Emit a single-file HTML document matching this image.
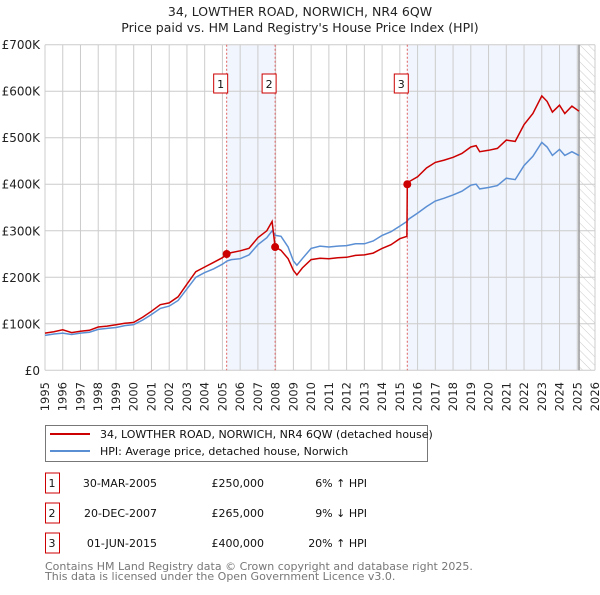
<!DOCTYPE html>
<html><head><meta charset="utf-8"><style>
body{margin:0;background:#fff;font-family:"Liberation Sans","DejaVu Sans",sans-serif;}
svg text{font-family:"DejaVu Sans","Liberation Sans",sans-serif;}
</style></head><body>
<svg id="c" width="600" height="590" xmlns="http://www.w3.org/2000/svg">
<defs><pattern id="hatch" width="6" height="6" patternUnits="userSpaceOnUse" patternTransform="rotate(-45)"><line x1="0" y1="0" x2="0" y2="6" stroke="#ccc" stroke-width="1"/></pattern></defs>
<text x="300" y="16" text-anchor="middle" font-size="12.5" fill="#222">34, LOWTHER ROAD, NORWICH, NR4 6QW</text>
<text x="300" y="32" text-anchor="middle" font-size="12.5" fill="#222">Price paid vs. HM Land Registry's House Price Index (HPI)</text>
<g id="plot"></g>
<g>
<rect x="45.5" y="425.5" width="382" height="36" fill="#fff" stroke="#777"/>
<line x1="50" y1="434" x2="90" y2="434" stroke="#cc0000" stroke-width="2"/>
<text x="100" y="438" font-size="11" fill="#111">34, LOWTHER ROAD, NORWICH, NR4 6QW (detached house)</text>
<line x1="50" y1="451" x2="90" y2="451" stroke="#5b8fd4" stroke-width="2"/>
<text x="100" y="455" font-size="11" fill="#111">HPI: Average price, detached house, Norwich</text>
</g>
<g id="tbl" font-size="11" fill="#111"></g>
<text x="45" y="570" font-size="11" fill="#777">Contains HM Land Registry data © Crown copyright and database right 2025.</text>
<text x="45" y="580" font-size="11" fill="#777">This data is licensed under the Open Government Licence v3.0.</text>
</svg>
<script>
const hpiYears=[1995,1995.5,1996,1996.5,1997,1997.5,1998,1998.5,1999,1999.5,2000,2000.5,2001,2001.5,2002,2002.5,2003,2003.5,2004,2004.5,2005,2005.25,2005.5,2006,2006.5,2007,2007.5,2007.8,2008,2008.3,2008.7,2009,2009.2,2009.5,2010,2010.5,2011,2011.5,2012,2012.5,2013,2013.5,2014,2014.5,2015,2015.4,2015.5,2016,2016.5,2017,2017.5,2018,2018.5,2019,2019.3,2019.5,2020,2020.5,2021,2021.5,2022,2022.5,2023,2023.3,2023.6,2024,2024.3,2024.7,2025.1];
const hpiValues=[75,78,80,77,80,82,88,90,92,96,98,108,120,133,138,150,175,200,210,218,228,235,238,240,248,270,285,300,290,288,265,235,226,240,262,267,265,267,268,272,272,278,290,298,310,320,325,338,352,364,370,377,385,398,400,390,393,397,413,410,440,460,490,480,462,475,462,470,462];
const priceYears=[1995,1995.5,1996,1996.5,1997,1997.5,1998,1998.5,1999,1999.5,2000,2000.5,2001,2001.5,2002,2002.5,2003,2003.5,2004,2004.5,2005,2005.25,2005.5,2006,2006.5,2007,2007.5,2007.8,2007.97,2008.3,2008.7,2009,2009.2,2009.5,2010,2010.5,2011,2011.5,2012,2012.5,2013,2013.5,2014,2014.5,2015,2015.4,2015.42,2015.5,2016,2016.5,2017,2017.5,2018,2018.5,2019,2019.3,2019.5,2020,2020.5,2021,2021.5,2022,2022.5,2023,2023.3,2023.6,2024,2024.3,2024.7,2025.1];
const priceValues=[80,83,87,81,84,86,93,95,98,101,103,114,127,141,145,158,185,212,222,232,242,250,253,257,262,285,300,320,265,258,240,215,205,220,238,241,240,242,243,247,248,252,262,270,283,288,400,405,416,435,447,452,458,466,480,483,470,473,477,495,492,528,552,590,578,555,570,552,568,557];
const saleLabels=["1","2","3"];
const saleYears=[2005.24,2007.97,2015.42];
const saleValues=[250,265,400];
const saleDates=["30-MAR-2005","20-DEC-2007","01-JUN-2015"];
const salePrices=["£250,000","£265,000","£400,000"];
const salePct=["6% ↑ HPI","9% ↓ HPI","20% ↑ HPI"];
const yTicks=[0,100,200,300,400,500,600,700];
const yTickLabels=["£0","£100K","£200K","£300K","£400K","£500K","£600K","£700K"];
const xTicks=[1995,1996,1997,1998,1999,2000,2001,2002,2003,2004,2005,2006,2007,2008,2009,2010,2011,2012,2013,2014,2015,2016,2017,2018,2019,2020,2021,2022,2023,2024,2025,2026];
const dataEnd=2025.1;

const X0=45,X1=595,Y0=370.3,Y1=44.7;
const x=v=>X0+(v-1995)/(2026-1995)*(X1-X0);
const y=v=>Y0+(v/700)*(Y1-Y0);
const NS="http://www.w3.org/2000/svg";
function mk(parent,tag,attrs){const e=document.createElementNS(NS,tag);for(const k in attrs)e.setAttribute(k,attrs[k]);parent.appendChild(e);return e;}
const g=document.getElementById('plot');
let r=mk(g,'rect',{x:x(saleYears[0]),y:Y1,width:x(saleYears[1])-x(saleYears[0]),height:Y0-Y1,fill:'#eef3fc',opacity:0.8});


r=mk(g,'rect',{x:x(saleYears[2]),y:Y1,width:x(dataEnd)-x(saleYears[2]),height:Y0-Y1,fill:'#eef3fc',opacity:0.8});


r=mk(g,'rect',{x:x(dataEnd),y:Y1,width:X1-x(dataEnd),height:Y0-Y1,fill:'url(#hatch)'});


xTicks.forEach((t,i)=>{
 const l=mk(g,'line',{x1:x(t),x2:x(t),y1:Y1,y2:Y0,stroke:'#ccc','stroke-width':1});
 
 
 const tx=mk(g,'text',{x:0,y:0,'text-anchor':'end','font-size':11.5,fill:'#222',transform:`translate(${x(t)+4},382) rotate(-90)`});
 tx.textContent=t;
 
 
});
yTicks.forEach((t,i)=>{
 const l=mk(g,'line',{x1:X0,x2:X1,y1:y(t),y2:y(t),stroke:'#ccc','stroke-width':1});
 
 
 const tx=mk(g,'text',{x:40,y:y(t)+4.5,'text-anchor':'end','font-size':12,fill:'#222'});
 tx.textContent=yTickLabels[i];
 
 
});
let l=mk(g,'line',{x1:x(dataEnd),x2:x(dataEnd),y1:Y1,y2:Y0,stroke:'#999','stroke-width':1.5});


saleYears.forEach((s,i)=>{
 const d=mk(g,'line',{x1:x(s),x2:x(s),y1:Y1,y2:Y0,stroke:'#e06060','stroke-width':1,'stroke-dasharray':'2,2'});
 
 
 const b=mk(g,'rect',{x:x(s)-13,y:74,width:14,height:19,fill:'#fff',stroke:'#cc0000'});
 
 
 const t=mk(g,'text',{x:x(s)-6,y:88,'text-anchor':'middle','font-size':11,fill:'#111'});
 t.textContent=saleLabels[i];
 
 
});
const pts=(xs,vs)=>xs.map((v,i)=>x(v).toFixed(1)+','+y(vs[i]).toFixed(1)).join(' ');
let p=mk(g,'polyline',{points:pts(hpiYears,hpiValues),fill:'none',stroke:'#5b8fd4','stroke-width':1.5});


p=mk(g,'polyline',{points:pts(priceYears,priceValues),fill:'none',stroke:'#cc0000','stroke-width':1.5});


saleYears.forEach((s,i)=>{
 const c=mk(g,'circle',{cx:x(s),cy:y(saleValues[i]),r:4,fill:'#cc0000'});
 
 
});
const tb=document.getElementById('tbl');
saleLabels.forEach((lab,i)=>{
 const cy=483+i*30;
 const b=mk(tb,'rect',{x:45.5,y:cy-10,width:14,height:20,fill:'#fff',stroke:'#cc0000'});
 
 
 const cells=[[52,'middle',lab,'table-row-number'],[157,'end',saleDates[i],'table-row-date'],[264,'end',salePrices[i],'table-row-price'],[367,'end',salePct[i],'table-row-hpi-diff']];
 cells.forEach(cl=>{
  const t=mk(tb,'text',{x:cl[0],y:cy+4,'text-anchor':cl[1]});
  t.textContent=cl[2];
  
  
 });
});
</script>
</body></html>
